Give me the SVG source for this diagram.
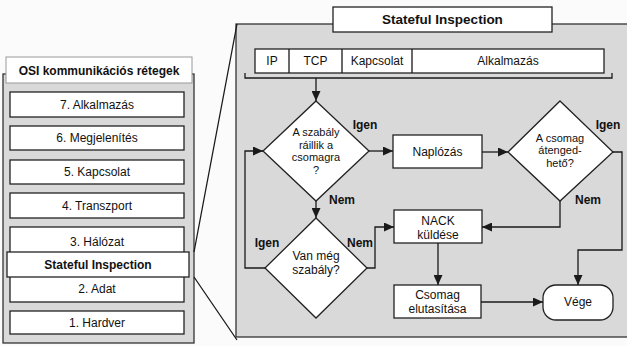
<svg xmlns="http://www.w3.org/2000/svg" width="627" height="346" viewBox="0 0 627 346">
<defs>
<marker id="ah" markerUnits="userSpaceOnUse" markerWidth="10" markerHeight="9" refX="10" refY="4.5" orient="auto">
<path d="M0,0 L10,4.5 L0,9 Z" fill="#1a1a1a"/>
</marker>
<style>
text{font-family:"Liberation Sans",Arial,sans-serif;fill:#111;text-anchor:middle}
.t{font-size:12px}
.d{font-size:11px}
.b{font-size:12px;font-weight:bold}
.box{fill:#fff;stroke:#222;stroke-width:1.3}
.panel{fill:#d9d9d9;stroke:#333;stroke-width:1.3}
.c{fill:none;stroke:#1a1a1a;stroke-width:1.3}
.ca{fill:none;stroke:#1a1a1a;stroke-width:1.3;marker-end:url(#ah)}
</style>
</defs>
<rect width="627" height="346" fill="#fbfbfb"/>

<g id="osi-panel">
<rect class="panel" x="3" y="74" width="191" height="269"/>
<rect x="6" y="57" width="186" height="26" fill="#fff" stroke="#999" stroke-width="1"/>
<text class="b" x="99" y="75">OSI kommunikációs rétegek</text>
</g>
<g id="layer7"><rect class="box" x="10" y="92" width="174" height="25"/><text class="t" x="97" y="109">7. Alkalmazás</text></g>
<g id="layer6"><rect class="box" x="10" y="126" width="174" height="24"/><text class="t" x="97" y="142">6. Megjelenítés</text></g>
<g id="layer5"><rect class="box" x="10" y="160" width="174" height="24"/><text class="t" x="97" y="176">5. Kapcsolat</text></g>
<g id="layer4"><rect class="box" x="10" y="193" width="174" height="25"/><text class="t" x="97" y="210">4. Transzport</text></g>
<g id="layer3"><rect class="box" x="10" y="227" width="174" height="33"/><text class="t" x="97" y="246">3. Hálózat</text></g>
<g id="layer2"><rect class="box" x="10" y="268" width="174" height="34"/><text class="t" x="97" y="293">2. Adat</text></g>
<g id="layer1"><rect class="box" x="10" y="311" width="174" height="23"/><text class="t" x="97" y="327">1. Hardver</text></g>
<g id="stateful-layer"><rect class="box" x="7" y="252" width="182" height="25"/><text class="b" x="98" y="269">Stateful Inspection</text></g>

<g id="si-panel">
<rect class="panel" x="236" y="24" width="400" height="313"/>
<rect class="box" x="333" y="7" width="219" height="25"/>
<text x="442.5" y="24" style="font-size:13.5px;font-weight:bold">Stateful Inspection</text>
</g>
<g id="header">
<rect class="box" x="255" y="49" width="349" height="24"/>
<path class="c" d="M289,49 V73 M342,49 V73 M412,49 V73"/>
<text class="t" x="272" y="65">IP</text>
<text class="t" x="315.5" y="65">TCP</text>
<text class="t" x="377" y="65">Kapcsolat</text>
<text class="t" x="508" y="65">Alkalmazás</text>
</g>

<g id="d1"><polygon class="box" points="316,101 369,151 316,201 263,151"/>
<text class="d" x="316" y="136">A szabály</text><text class="d" x="316" y="148.5">ráillik a</text><text class="d" x="316" y="161">csomagra</text><text class="d" x="316" y="173.5">?</text></g>
<g id="naplozas"><rect class="box" x="393" y="135" width="89" height="33"/><text class="t" x="437.5" y="156">Naplózás</text></g>
<g id="d2"><polygon class="box" points="560,101 613,152 560,201 508,152"/>
<text class="d" x="560" y="141.5">A csomag</text><text class="d" x="560" y="154">átenged-</text><text class="d" x="560" y="166.5">hető?</text></g>
<g id="nack"><rect class="box" x="394" y="210" width="88" height="33"/><text class="t" x="438" y="225">NACK</text><text class="t" x="438" y="239">küldése</text></g>
<g id="d3"><polygon class="box" points="316,218 367,268 316,318 265,268"/>
<text class="t" x="316" y="260">Van még</text><text class="t" x="316" y="274">szabály?</text></g>
<g id="csomag"><rect class="box" x="394" y="285" width="87" height="33"/><text class="t" x="437.5" y="299">Csomag</text><text class="t" x="437.5" y="313">elutasítása</text></g>
<g id="vege"><rect class="box" x="543" y="285" width="70" height="35" rx="13"/><text class="t" x="578" y="306">Vége</text></g>

<g id="connectors">
<path class="c" d="M194,252 L237,24 M194,277 L237,340"/>
<path class="c" d="M245,73 V78 H612 V73"/>
<path class="ca" d="M316,78 V101"/>
<path class="ca" d="M369,151 H393"/>
<path class="ca" d="M482,152 H508"/>
<path class="ca" d="M560,201 V227 H482"/>
<path class="ca" d="M613,152 H622 V250 H578 V285"/>
<path class="ca" d="M438,243 V285"/>
<path class="ca" d="M481,302 H543"/>
<path class="ca" d="M316,201 V218"/>
<path class="ca" d="M367,268 H375 V227 H394"/>
<path class="ca" d="M265,268 H245 V151 H263"/>
</g>
<g id="labels">
<text class="b" x="365" y="129">Igen</text>
<text class="b" x="342" y="204">Nem</text>
<text class="b" x="608" y="129">Igen</text>
<text class="b" x="588" y="204">Nem</text>
<text class="b" x="360" y="247">Nem</text>
<text class="b" x="267" y="247">Igen</text>
</g>
</svg>
